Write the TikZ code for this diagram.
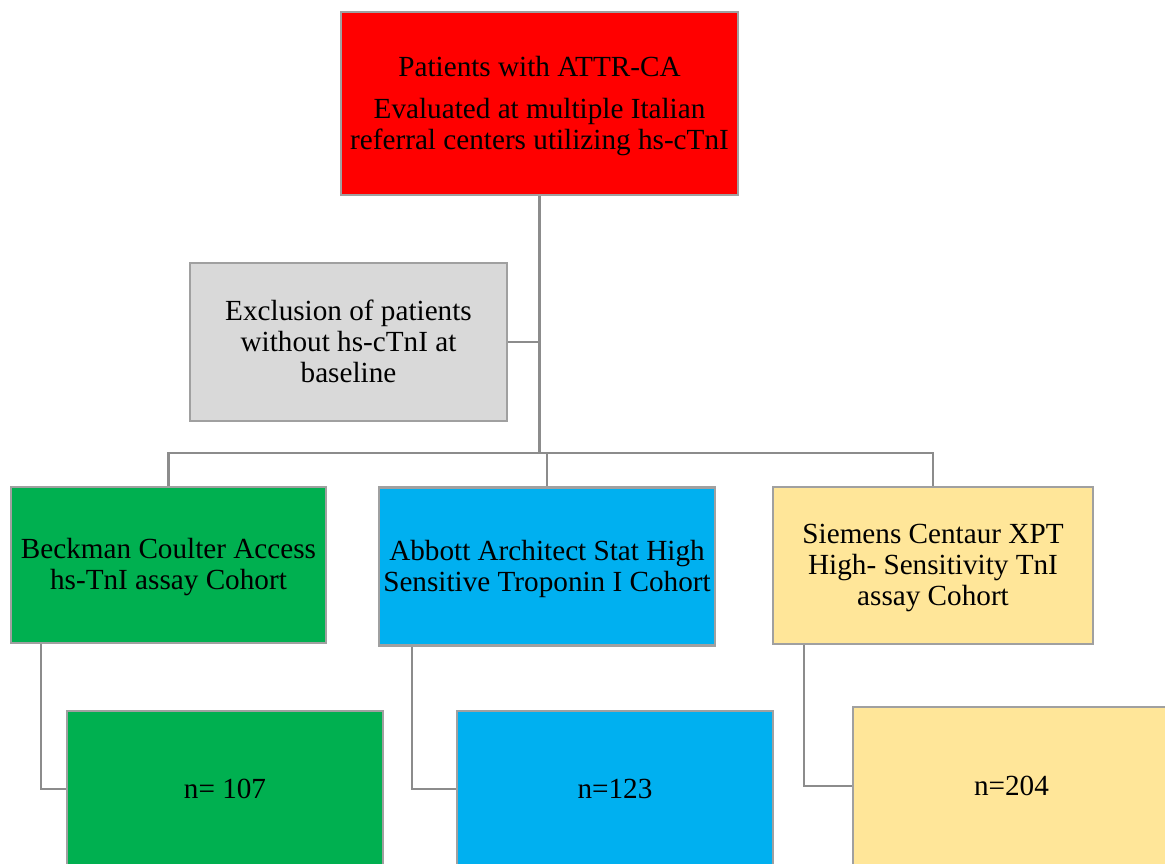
\documentclass[tikz,border=0pt]{standalone}
\usepackage{fontspec}
\setmainfont{Liberation Serif}
\definecolor{boxred}{HTML}{FF0000}
\definecolor{boxgray}{HTML}{D9D9D9}
\definecolor{boxgreen}{HTML}{00B050}
\definecolor{boxblue}{HTML}{00B0F0}
\definecolor{boxyellow}{HTML}{FFE699}
\definecolor{edgegray}{HTML}{A0A0A0}
\definecolor{linegray}{HTML}{8C8C8C}
\newcommand\topstr{\rule{0pt}{25.5pt}}
\newcommand\botstr{\rule[-7pt]{0pt}{0pt}}
\begin{document}
\begin{tikzpicture}[x=1pt,y=-1pt,
  box/.style={draw=edgegray,line width=2.5pt,rectangle,inner sep=0pt,align=center,
    font=\fontsize{29.2}{31}\selectfont},
  conn/.style={draw=linegray,line width=2.5pt}]
\useasboundingbox (0,0) rectangle (1165,864);
\node[box,fill=boxred,minimum width=397pt,minimum height=183pt] (red) at (539.5,103.5)
  {\topstr Patients with ATTR-CA\\[11pt]Evaluated at multiple Italian\\referral centers utilizing hs-cTnI\botstr};
\node[box,fill=boxgray,minimum width=317pt,minimum height=158pt] (gray) at (348.5,342)
  {\topstr Exclusion of patients\\without hs-cTnI at\\baseline\botstr};
\node[box,fill=boxgreen,minimum width=315pt,minimum height=156pt] (green) at (168.5,565)
  {\topstr Beckman Coulter Access\\hs-TnI assay Cohort\botstr};
\node[box,fill=boxblue,minimum width=336pt,minimum height=158pt] (blue) at (547,566.5)
  {\topstr Abbott Architect Stat High\\Sensitive Troponin I Cohort\botstr};
\node[box,fill=boxyellow,minimum width=320pt,minimum height=157pt] (yellow) at (933,565.5)
  {\topstr Siemens Centaur XPT\\High- Sensitivity TnI\\assay Cohort\botstr};
\node[box,fill=boxgreen,minimum width=316pt,minimum height=156pt] (ngreen) at (225,789) {\topstr n= 107\botstr};
\node[box,fill=boxblue,minimum width=316pt,minimum height=156pt] (nblue) at (615,789) {\topstr n=123\botstr};
\node[box,fill=boxyellow,minimum width=317pt,minimum height=158pt] (nyellow) at (1011.5,786) {\topstr n=204\botstr};
\coordinate (jn) at (0,453);
\draw[conn] (red.south) -- (red.south |- jn);
\draw[conn] (gray.east) -- (gray.east -| red.south);
\draw[conn] (green.north) -- (green.north |- jn) -- (yellow.north |- jn) -- (yellow.north);
\draw[conn] (blue.north) -- (blue.north |- jn);
\draw[conn] ([xshift=31pt]green.south west) |- (ngreen.west);
\draw[conn] ([xshift=34pt]blue.south west) |- (nblue.west);
\draw[conn] ([xshift=32pt]yellow.south west) |- (nyellow.west);
\end{tikzpicture}
\end{document}
